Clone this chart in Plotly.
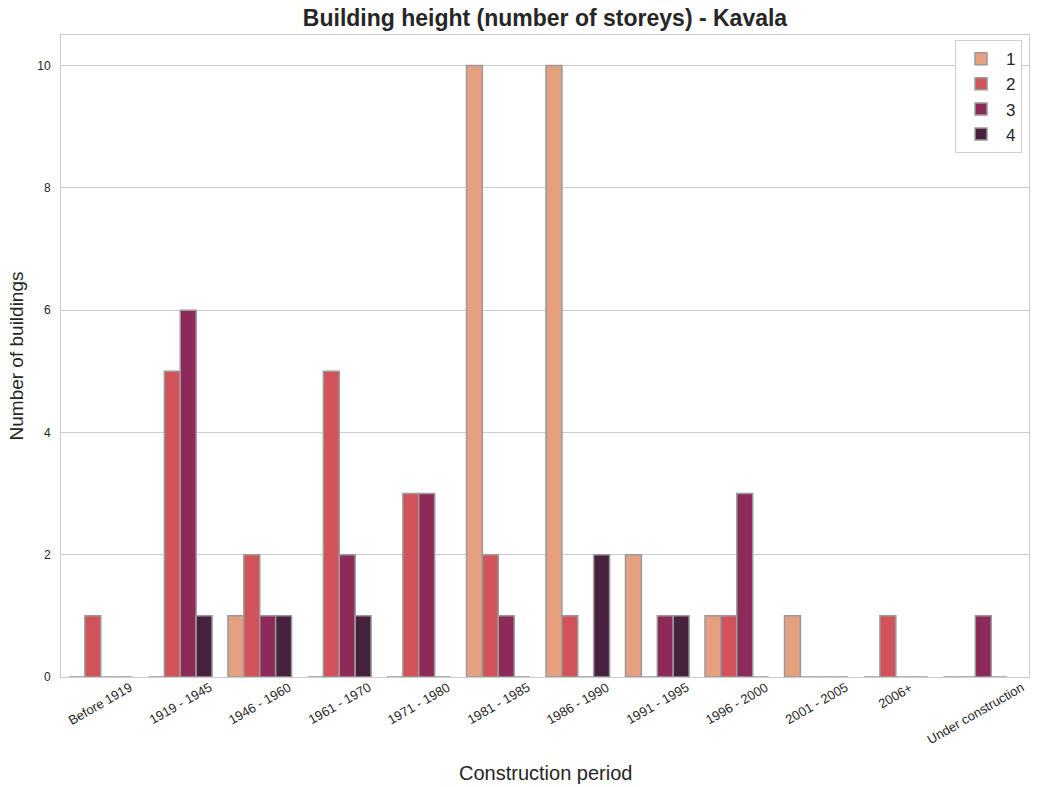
import plotly.graph_objects as go

periods = ['Before 1919', '1919 - 1945', '1946 - 1960', '1961 - 1970', '1971 - 1980',
           '1981 - 1985', '1986 - 1990', '1991 - 1995', '1996 - 2000', '2001 - 2005',
           '2006+', 'Under construction']

storeys_1 = [0, 0, 1, 0, 0, 10, 10, 2, 1, 1, 0, 0]
storeys_2 = [1, 5, 2, 5, 3, 2, 1, 0, 1, 0, 1, 0]
storeys_3 = [0, 6, 1, 2, 3, 1, 0, 1, 3, 0, 0, 1]
storeys_4 = [0, 1, 1, 1, 0, 0, 2, 1, 0, 0, 0, 0]

series = [('1', storeys_1, '#E4A07F'), ('2', storeys_2, '#D2545A'),
          ('3', storeys_3, '#8E2A59'), ('4', storeys_4, '#47223F')]

font = 'Liberation Sans, Arial, sans-serif'

fig = go.Figure()
for name, vals, col in series:
    fig.add_trace(go.Bar(x=periods, y=vals, name=name,
                         marker=dict(color=col, line=dict(color='#9a9a9a', width=1.5))))

# matplotlib-style centred rotated tick labels
for p in periods:
    fig.add_annotation(x=p, y=0, xref='x', yref='paper', text=p, showarrow=False,
                       textangle=-30, xanchor='center', yanchor='top', yshift=0,
                       font=dict(family=font, size=13, color='#262626'))

# x axis title placed below the rotated labels
fig.add_annotation(x=0.5, y=0, xref='paper', yref='paper', text='Construction period',
                   showarrow=False, xanchor='center', yanchor='middle', yshift=-96,
                   font=dict(family=font, size=20, color='#262626'))

fig.update_layout(
    width=1047, height=787,
    margin=dict(l=61, r=18, t=35, b=110),
    paper_bgcolor='white', plot_bgcolor='white',
    font=dict(family=font, color='#262626'),
    barmode='group', bargap=0.2, bargroupgap=0,
    title=dict(text='<b>Building height (number of storeys) - Kavala</b>',
               x=0.5, xref='paper', xanchor='center', y=1 - 18 / 787, yanchor='middle',
               font=dict(size=23, color='#262626')),
    legend=dict(x=0.9928, y=0.992, xanchor='right', yanchor='top',
                bordercolor='#d0d0d0', borderwidth=1, bgcolor='white',
                font=dict(size=17), traceorder='normal', itemwidth=40),
    showlegend=True,
)
fig.update_xaxes(showticklabels=False, showgrid=False, showline=True, linecolor='#cccccc',
                 linewidth=1, mirror=True, ticks='')
fig.update_yaxes(range=[0, 10.5], tickvals=[0, 2, 4, 6, 8, 10], showgrid=True,
                 gridcolor='#cccccc', gridwidth=1, showline=True, linecolor='#cccccc',
                 linewidth=1, mirror=True, ticks='', zeroline=False,
                 tickfont=dict(size=12, color='#262626'), ticklabelstandoff=7,
                 title=dict(text='Number of buildings', font=dict(size=19), standoff=8))

# drop the default page margin so the figure fills the window exactly
fig.write_html('out.html', config={'displayModeBar': False},
               post_script="document.body.style.margin='0';")
